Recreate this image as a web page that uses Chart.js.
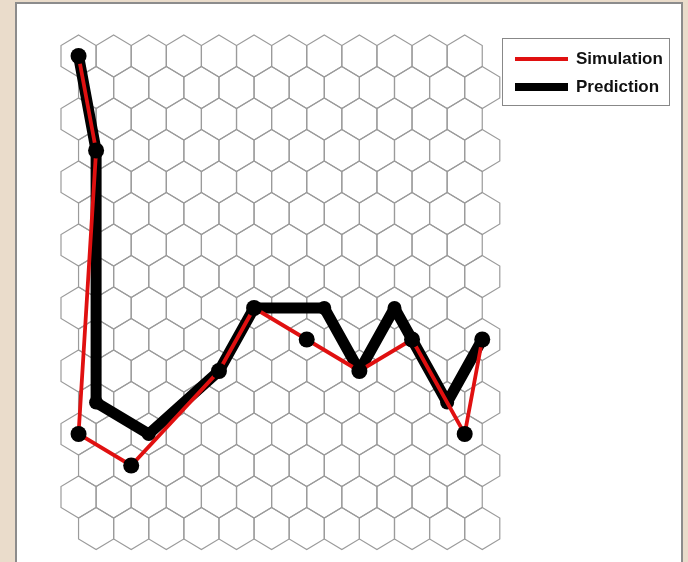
<!DOCTYPE html>
<html>
<head>
<meta charset="utf-8">
<script src="https://cdn.jsdelivr.net/npm/chart.js@4.4.1/dist/chart.umd.min.js"></script>
<style>
  html, body { margin: 0; padding: 0; background: #eadccb; }
  #panel { position: absolute; left: 15px; top: 2px; width: 664px; height: 580px; background: #fff; border: 2px solid #8c8c8c; }
  #hexChart { position: absolute; left: 0; top: 0; }
</style>
</head>
<body>
<div id="panel"></div>
<canvas id="hexChart" width="688" height="562"></canvas>
<script>
// grid size (hex columns / rows)
const gridCols = 12;
const gridRows = 16;

// positions in hex units: x = column (odd rows shifted half a cell), y = row
const simulationX = [0, 0.5, 0, 1.5, 4, 5, 6.5, 8, 9.5, 11, 11.5];
const simulationY = [0, 3, 12, 13, 10, 8, 9, 10, 9, 12, 9];

const predictionX = [0, 0.5, 0.5, 2, 4, 5, 7, 8, 9, 9.5, 10.5, 11.5];
const predictionY = [0, 3, 11, 12, 10, 8, 8, 10, 8, 9, 11, 9];

const seriesLabels = ['Simulation', 'Prediction'];

const toPoints = (xs, ys) => xs.map((x, i) => ({ x, y: ys[i] }));

// draws the hex grid behind the lines, using the chart scales
const hexGrid = {
  id: 'hexGrid',
  beforeDatasetsDraw(chart) {
    const { ctx, scales: { x, y } } = chart;
    const h = 2 / 3, s = 1 / 3;
    ctx.save();
    ctx.strokeStyle = '#9b9b9b';
    ctx.lineWidth = 1.2;
    for (let r = 0; r < gridRows; r++) {
      for (let c = 0; c < gridCols; c++) {
        const cx = c + (r % 2) * 0.5;
        const pts = [
          [cx, r - h], [cx + 0.5, r - s], [cx + 0.5, r + s],
          [cx, r + h], [cx - 0.5, r + s], [cx - 0.5, r - s],
        ];
        ctx.beginPath();
        pts.forEach(([px, py], i) => {
          const X = x.getPixelForValue(px);
          const Y = y.getPixelForValue(py);
          if (i === 0) ctx.moveTo(X, Y); else ctx.lineTo(X, Y);
        });
        ctx.closePath();
        ctx.stroke();
      }
    }
    ctx.restore();
  },
};

// boxed legend in the top right
const boxLegend = {
  id: 'boxLegend',
  afterDraw(chart) {
    const ctx = chart.ctx;
    ctx.save();
    ctx.strokeStyle = '#888';
    ctx.lineWidth = 1;
    ctx.strokeRect(502.5, 38.5, 167, 67);
    ctx.font = 'bold 17px "Liberation Sans", Arial, sans-serif';
    ctx.fillStyle = '#111';
    ctx.textBaseline = 'middle';
    chart.data.datasets.forEach((ds, i) => {
      const yPos = 59 + i * 28;
      ctx.strokeStyle = ds.borderColor;
      ctx.lineWidth = i === 0 ? 4 : 8;
      ctx.beginPath();
      ctx.moveTo(515, yPos);
      ctx.lineTo(568, yPos);
      ctx.stroke();
      ctx.fillText(ds.label, 576, yPos);
    });
    ctx.restore();
  },
};

new Chart(document.getElementById('hexChart'), {
  type: 'scatter',
  data: {
    datasets: [
      {
        label: seriesLabels[0],
        data: toPoints(simulationX, simulationY),
        showLine: true,
        borderColor: '#e01010',
        borderWidth: 3.8,
        pointRadius: 8,
        pointBackgroundColor: '#000',
        pointBorderWidth: 0,
        clip: false,
      },
      {
        label: seriesLabels[1],
        data: toPoints(predictionX, predictionY),
        showLine: true,
        borderColor: '#000',
        borderWidth: 11,
        borderJoinStyle: 'round',
        borderCapStyle: 'round',
        pointRadius: 7,
        pointBackgroundColor: '#000',
        pointBorderWidth: 0,
        clip: false,
      },
    ],
  },
  options: {
    responsive: false,
    animation: false,
    layout: { padding: { left: 61, right: 188.2, top: 35, bottom: 12.5 } },
    scales: {
      x: { type: 'linear', display: false, min: -0.5, max: gridCols },
      y: { type: 'linear', display: false, reverse: true, min: -2 / 3, max: gridRows - 1 + 2 / 3 },
    },
    plugins: { legend: { display: false }, tooltip: { enabled: false } },
  },
  plugins: [hexGrid, boxLegend],
});
</script>
</body>
</html>
